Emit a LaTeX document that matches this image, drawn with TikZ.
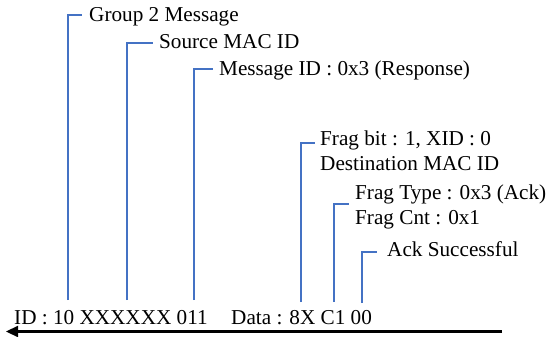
\documentclass[tikz,border=0pt]{standalone}
\usepackage{fontspec}
\setmainfont{Liberation Serif}
\usetikzlibrary{arrows.meta}
\definecolor{lineblue}{RGB}{68,114,196}
\begin{document}
\begin{tikzpicture}[x=1pt,y=-1pt,
  lbl/.style={anchor=base west,inner sep=0pt,font=\fontsize{21.2}{25}\selectfont},
  leader/.style={draw=lineblue,line width=2pt},
  timeline/.style={draw=black,line width=2.2pt,-{Triangle[length=12pt,width=11pt]}}]
\useasboundingbox (0,0) rectangle (549,337);
% labels
\node[lbl] (g2) at (89,22) {Group 2 Message};
\node[lbl] (src) at (159,48.5) {Source MAC ID};
\node[lbl] (mid) at (219,76) {Message ID : 0x3 (Response)};
\node[lbl] (fb) at (320,145) {Frag bit : 1, XID : 0};
\node[lbl] (dst) at (320,170) {Destination MAC ID};
\node[lbl] (ft) at (355,199) {Frag Type : 0x3 (Ack)};
\node[lbl] (fc) at (355,224.3) {Frag Cnt : 0x1};
\node[lbl] (ack) at (387,256.7) {Ack Successful};
\node[lbl] (idt) at (14,324.3) {ID : 10 XXXXXX 011};
\node[lbl] (dat) at (231,324.3) {Data : 8X C1 00};
% leader end points
\coordinate (b1) at (68,300);  \coordinate (t1) at (82,15);
\coordinate (b2) at (127,300); \coordinate (t2) at (153,43.3);
\coordinate (b3) at (194,300); \coordinate (t3) at (213,69.5);
\coordinate (b4) at (301,302); \coordinate (t4) at (315,143);
\coordinate (b5) at (334,302); \coordinate (t5) at (349,204);
\coordinate (b6) at (362,303); \coordinate (t6) at (377,252);
\foreach \i in {1,...,6}{\draw[leader] (b\i) |- (t\i);}
% time axis
\coordinate (ar) at (502,331.5);
\coordinate (al) at (6,331.5);
\draw[timeline] (ar) -- (al);
\end{tikzpicture}
\end{document}
